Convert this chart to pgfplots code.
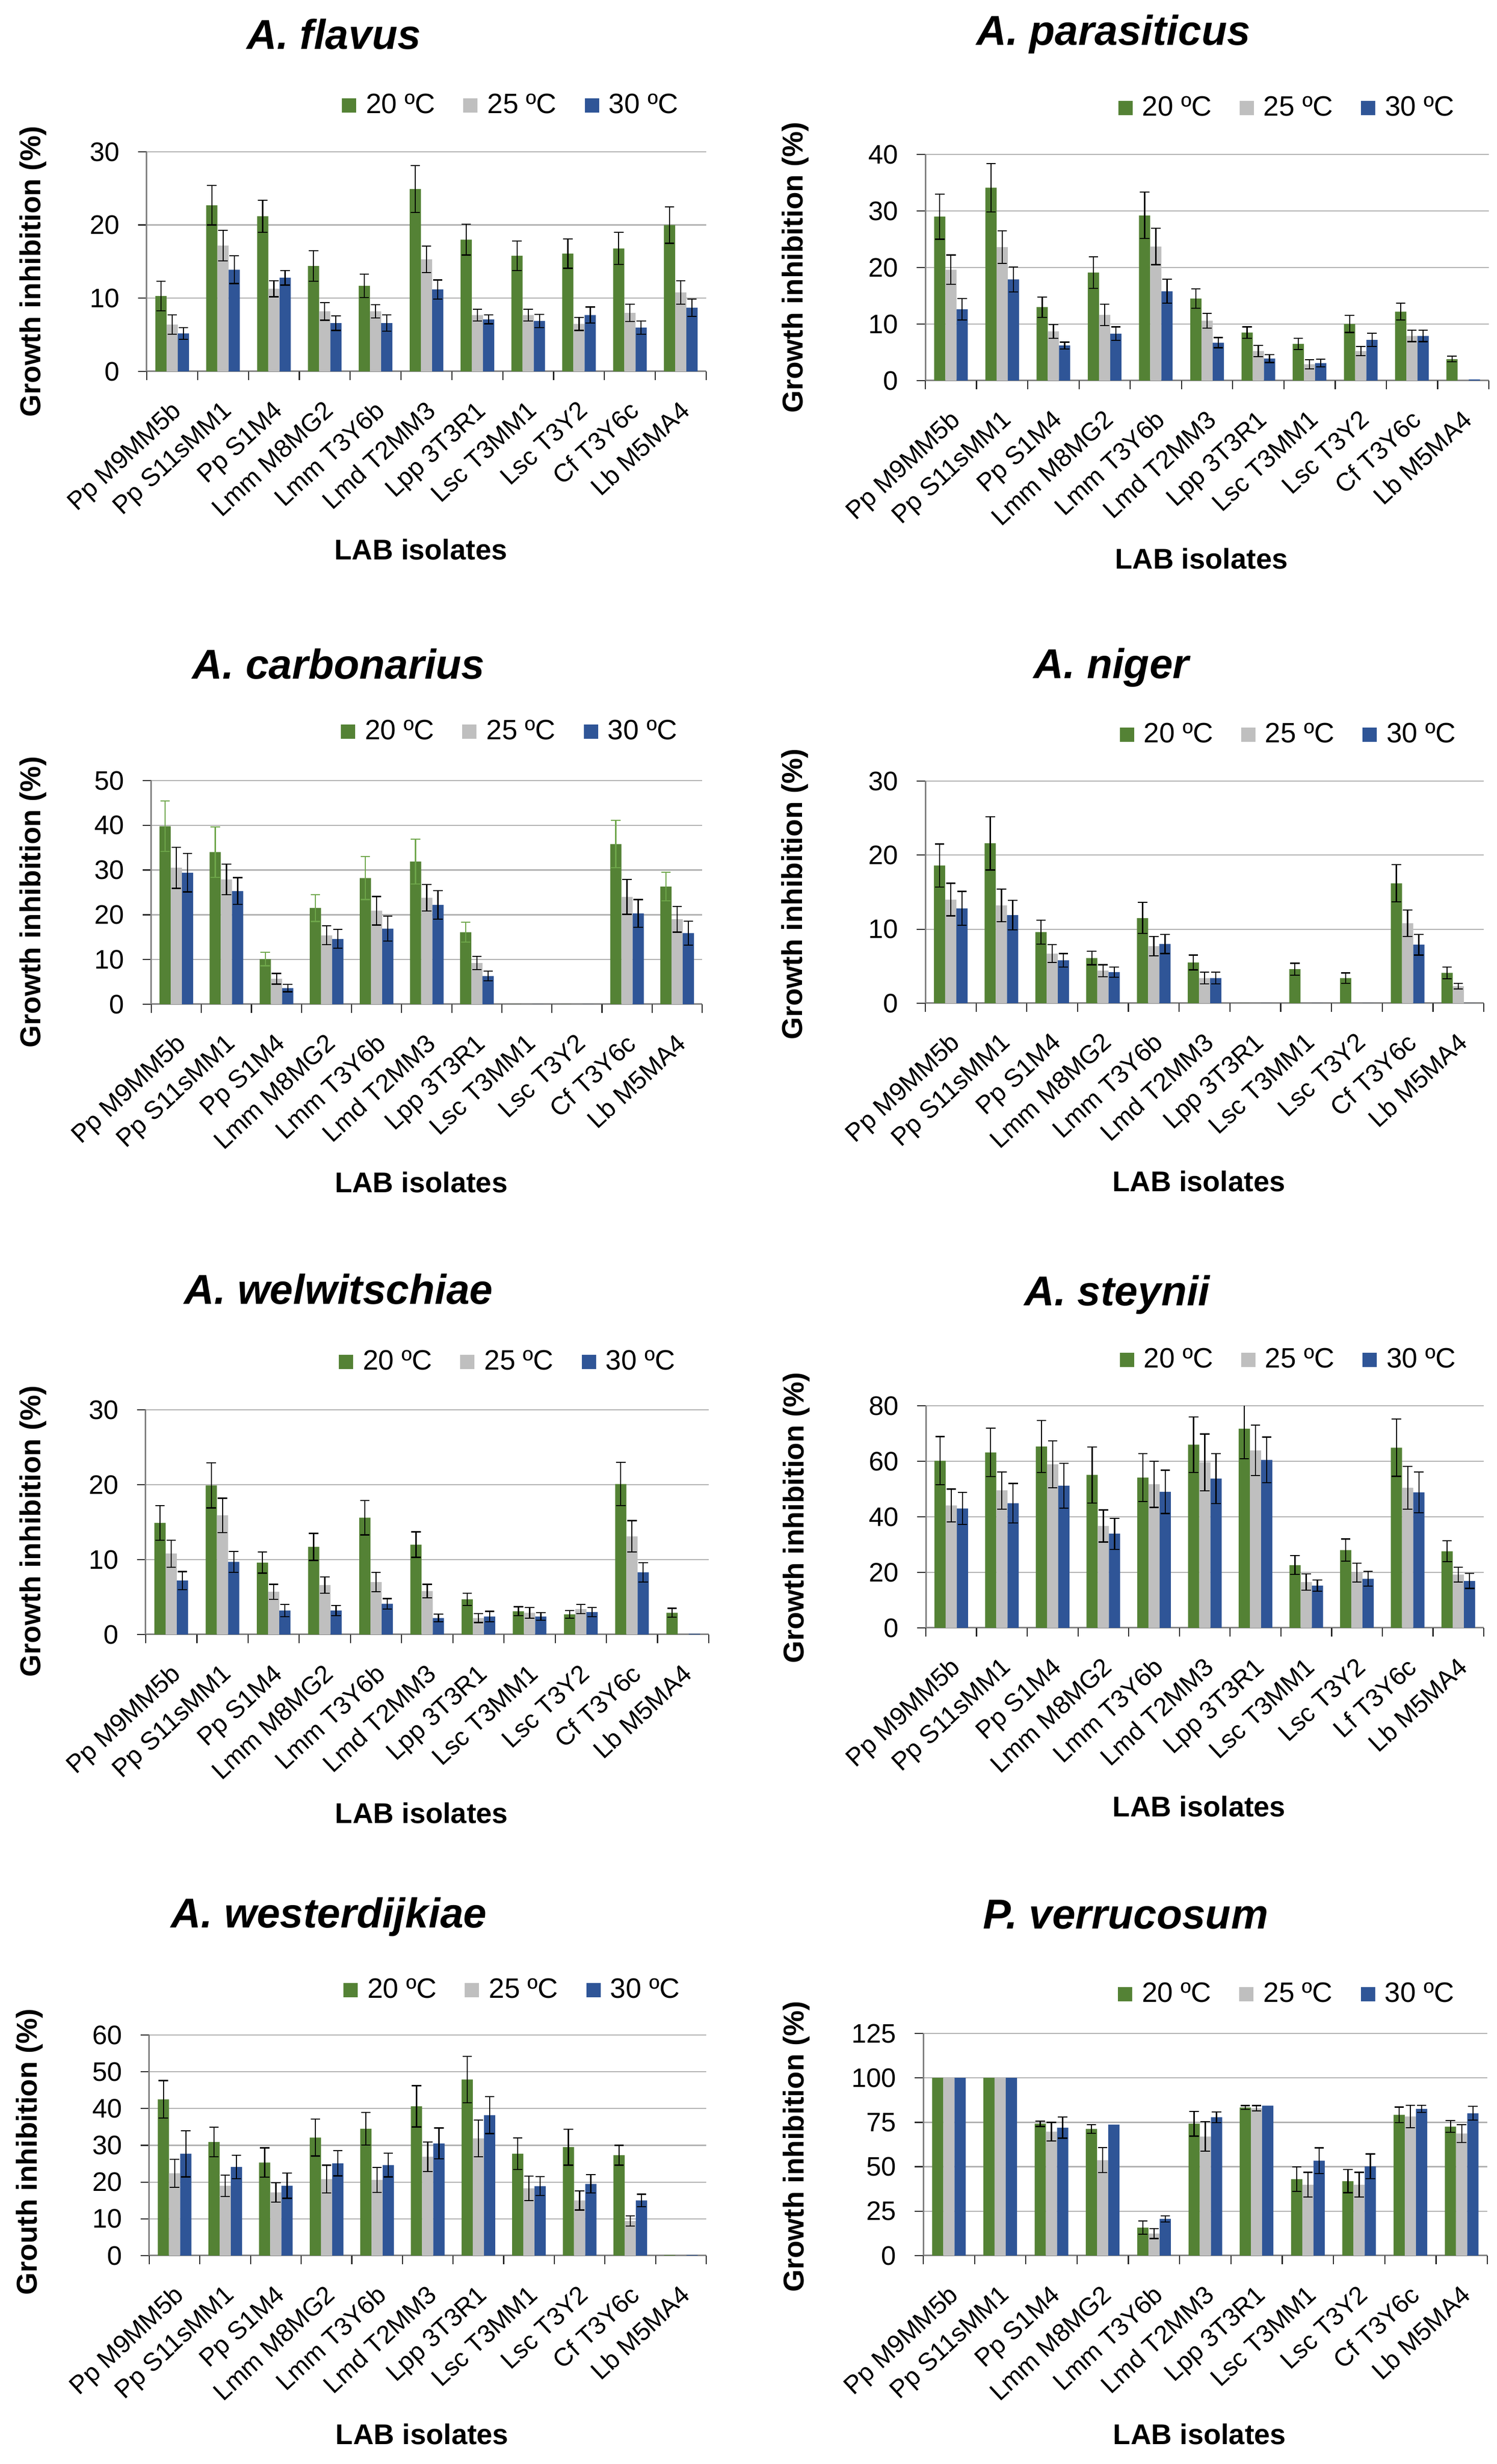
\documentclass[border=0pt]{standalone}
\usepackage{fontspec}
\setmainfont{Liberation Sans}
\usepackage{pgfplots}
\usepackage{pgfplotstable}
\pgfplotsset{compat=1.18}
\definecolor{cg}{HTML}{548235}
\definecolor{cs}{HTML}{BFBFBF}
\definecolor{cb}{HTML}{2F5597}
\definecolor{gridc}{HTML}{B0B0B0}
\definecolor{axc}{HTML}{808080}
\definecolor{cge}{HTML}{6EA64A}

\pgfplotstableread{
x g ge s se b be
0 10.3 2.0 6.4 1.3 5.2 0.8
1 22.7 2.7 17.2 2.1 13.9 1.9
2 21.2 2.2 11.3 1.1 12.8 1.0
3 14.4 2.1 8.2 1.2 6.6 1.0
4 11.7 1.6 8.2 0.9 6.6 1.1
5 24.9 3.2 15.3 1.8 11.2 1.3
6 18.0 2.1 7.7 0.8 7.1 0.6
7 15.8 2.0 7.7 0.8 6.9 0.9
8 16.1 2.0 6.5 0.9 7.7 1.1
9 16.8 2.2 8.0 1.2 6.0 0.9
10 20.0 2.5 10.8 1.6 8.7 1.2
}\flavus

\pgfplotstableread{
x g ge s se b be
0 29.0 4.0 19.6 2.6 12.6 1.9
1 34.1 4.3 23.6 2.9 17.9 2.2
2 13.0 1.8 8.7 1.2 6.2 0.6
3 19.1 2.8 11.6 1.9 8.3 1.2
4 29.2 4.1 23.7 3.2 15.8 2.1
5 14.5 1.7 10.6 1.3 6.7 0.9
6 8.5 1.0 5.2 1.0 3.9 0.7
7 6.5 1.0 2.9 0.8 3.1 0.7
8 10.0 1.5 5.2 0.8 7.2 1.2
9 12.2 1.5 7.9 1.0 7.9 1.0
10 3.8 0.5 0 0 0.2 0
}\parasiticus

\pgfplotstableread{
x g ge s se b be
0 39.8 5.6 30.5 4.6 29.4 4.3
1 34.0 5.6 27.9 3.4 25.3 3.0
2 10.1 1.5 5.7 1.2 3.6 0.8
3 21.5 3.0 15.4 2.1 14.6 2.1
4 28.2 4.8 20.9 3.2 16.9 2.8
5 31.9 5.0 23.8 3.0 22.2 3.2
6 16.1 2.2 9.2 1.5 6.3 1.1
7 0 0 0 0 0 0
8 0 0 0 0 0 0
9 35.8 5.3 24.0 3.9 20.3 3.1
10 26.3 3.2 19.0 2.9 15.9 2.7
}\carbonarius

\pgfplotstableread{
x g ge s se b be
0 18.6 2.9 14.0 2.2 12.8 2.3
1 21.6 3.6 13.2 2.2 11.9 2.0
2 9.6 1.6 6.7 1.2 5.8 0.9
3 6.1 0.9 4.4 0.8 4.2 0.7
4 11.5 2.1 7.7 1.3 8.0 1.3
5 5.5 1.0 3.4 0.8 3.4 0.8
6 0 0 0 0 0 0
7 4.6 0.8 0 0 0 0
8 3.4 0.7 0 0 0 0
9 16.2 2.5 10.8 1.8 7.9 1.4
10 4.1 0.8 2.3 0.4 0 0
}\niger

\pgfplotstableread{
x g ge s se b be
0 14.9 2.3 10.8 1.8 7.2 1.2
1 19.9 3.0 15.9 2.3 9.7 1.4
2 9.6 1.4 5.7 1.0 3.2 0.8
3 11.7 1.8 6.6 1.1 3.2 0.7
4 15.6 2.3 7.0 1.3 4.1 0.7
5 12.0 1.7 5.8 0.9 2.2 0.5
6 4.7 0.8 2.2 0.6 2.4 0.7
7 3.1 0.6 2.9 0.7 2.4 0.5
8 2.7 0.5 3.4 0.6 3.0 0.6
9 20.1 2.9 13.1 2.1 8.3 1.3
10 2.9 0.6 0 0 0.1 0
}\welwitschiae

\pgfplotstableread{
x g ge s se b be
0 60.2 8.7 44.1 5.9 43.0 5.8
1 63.2 8.7 49.5 6.7 44.9 7.1
2 65.3 9.4 58.9 8.5 51.2 8.1
3 55.1 10.1 36.7 5.8 33.9 5.6
4 54.1 8.6 51.7 8.3 49.0 7.8
5 66.0 10.0 59.6 10.2 53.8 9.0
6 71.7 10.8 63.9 9.1 60.5 8.2
7 22.6 3.4 16.5 2.9 15.2 2.0
8 28.0 4.0 19.9 3.4 17.7 2.6
9 64.9 10.3 50.5 7.7 48.8 7.4
10 27.6 3.8 19.2 2.7 16.9 2.7
}\steynii

\pgfplotstableread{
x g ge s se b be
0 42.5 5.1 22.4 3.8 27.7 6.3
1 30.9 4.0 19.0 2.9 24.1 3.2
2 25.3 4.0 17.2 2.6 19.0 3.4
3 32.1 5.0 20.8 3.8 25.1 3.4
4 34.5 4.4 20.6 3.4 24.6 3.2
5 40.6 5.6 26.9 4.0 30.5 4.2
6 47.9 6.3 31.9 5.0 38.2 5.0
7 27.7 4.3 18.3 3.3 18.9 2.6
8 29.5 4.9 15.0 2.6 19.5 2.5
9 27.3 2.7 9.4 1.4 15.0 1.7
10 0.15 0 0 0 0.15 0
}\westerdijkiae

\pgfplotstableread{
x g ge s se b be
0 100 0 100 0 100 0
1 100 0 100 0 100 0
2 74.2 1.5 69.8 5.2 72.0 5.9
3 71.3 2.4 53.7 7.0 73.7 0
4 15.7 3.7 12.4 2.8 20.7 1.7
5 74.2 7.0 67.0 8.3 77.9 3.0
6 83.3 1.1 82.9 1.5 84.4 0
7 43.0 6.8 39.9 7.0 53.4 7.2
8 41.9 6.5 39.9 7.0 50.2 7.0
9 79.2 4.4 78.3 6.3 82.5 2.0
10 72.6 3.3 68.7 5.0 80.1 3.9
}\verrucosum

\pgfplotsset{
  panel/.style={
    scale only axis, anchor=south west,
    ybar, bar width=4.4pt,
    xmin=-0.5, xmax=10.5, ymin=0,
    axis x line*=bottom, axis y line*=left,
    axis line style={draw=axc, line width=0.6pt},
    tick align=outside, major tick length=3.4pt,
    /pgf/number format/assume math mode=true,
    xticklabel style={font=\fontsize{10}{12}\selectfont},
    yticklabel style={font=\fontsize{10.5}{12}\selectfont},
    xtick={0,...,10},
    xticklabels={Pp M9MM5b, Pp S11sMM1, Pp S1M4, Lmm M8MG2, Lmm T3Y6b, Lmd T2MM3, Lpp 3T3R1, Lsc T3MM1, Lsc T3Y2, Cf T3Y6c, Lb M5MA4},
    xticklabel style={xshift=-0.8pt, yshift=-6pt, rotate=43, anchor=north east, inner sep=1pt},
    yticklabel style={xshift=-3.7pt},
    xtick style={draw=none},
    extra x ticks={-0.5,0.5,...,10.5},
    extra x tick labels={,,,,,,,,,,,},
    extra x tick style={grid=none, xtick style={draw=black!85, line width=0.45pt}},
    ytick style={draw=black!85, line width=0.45pt},
    ymajorgrids, major grid style={draw=gridc, line width=0.45pt},
    ylabel={Growth inhibition (\%)},
    ylabel style={font=\fontsize{11.3}{13}\selectfont\bfseries, anchor=center},
    xlabel={LAB isolates},
    xlabel style={font=\fontsize{11.2}{13}\selectfont\bfseries, at={(axis description cs:0.49,0)}, anchor=center, yshift=-70pt},
    title style={font=\fontsize{16.4}{19}\selectfont\bfseries\itshape, at={(axis description cs:0.5,1)}, anchor=center},
    legend columns=3,
    legend style={at={(axis description cs:1,1)}, anchor=east, draw=none, fill=none, inner sep=0pt,
      font=\fontsize{11}{13}\selectfont, /tikz/every even column/.append style={column sep=9pt}},
    legend image code/.code={\fill[#1,draw=none] (0pt,-2.8pt) rectangle (5.6pt,2.8pt);},
  },
  eb/.style={forget plot, draw=none, fill=none,
    error bars/y dir=both, error bars/y explicit,
    error bars/error bar style={draw=#1, line width=0.45pt},
    error bars/error mark options={rotate=90, draw=#1, mark size=1.85pt, line width=0.45pt}},
}

\newcommand{\panelplots}[2]{%
  \addplot[fill=cg, draw=none, bar shift=-4.4pt] table[x=x,y=g]{#1};
  \addplot[fill=cs, draw=none, bar shift=0pt] table[x=x,y=s]{#1};
  \addplot[fill=cb, draw=none, bar shift=4.4pt] table[x=x,y=b]{#1};
  \legend{\hspace*{1.8pt}20 ºC, \hspace*{1.8pt}25 ºC, \hspace*{1.8pt}30 ºC}
  \addplot[eb=#2, bar shift=-4.4pt, restrict expr to domain={\thisrow{ge}}{0.01:1000}] table[x=x,y=g,y error=ge]{#1};
  \addplot[eb=black, bar shift=0pt, restrict expr to domain={\thisrow{se}}{0.01:1000}] table[x=x,y=s,y error=se]{#1};
  \addplot[eb=black, bar shift=4.4pt, restrict expr to domain={\thisrow{be}}{0.01:1000}] table[x=x,y=b,y error=be]{#1};
}

\begin{document}
\begin{tikzpicture}
\path[use as bounding box] (0,0) rectangle (587.6pt,967.2pt);

% A. flavus
\begin{axis}[panel, at={(57.6pt,821.4pt)}, width=219.6pt, height=86.2pt,
  ymax=30, ytick={0,10,20,30}, title={A. flavus},
  title style={xshift=-36.4pt, yshift=40.1pt},
  legend style={xshift=-8.8pt, yshift=18.2pt},
  ylabel style={at={(axis description cs:-0.203,0.455)}}]
\panelplots{\flavus}{black}
\end{axis}

% A. parasiticus
\begin{axis}[panel, at={(363.2pt,817.8pt)}, width=221.2pt, height=88.8pt,
  ymax=40, ytick={0,10,...,40}, title={A. parasiticus},
  title style={xshift=-36.8pt, yshift=41.1pt},
  legend style={xshift=-11.3pt, yshift=18.2pt},
  ylabel style={at={(axis description cs:-0.231,0.5)}}]
\panelplots{\parasiticus}{black}
\end{axis}

% A. carbonarius
\begin{axis}[panel, at={(59.4pt,573pt)}, width=216.2pt, height=87.8pt,
  ymax=50, ytick={0,10,...,50}, title={A. carbonarius},
  title style={xshift=-34.6pt, yshift=39.7pt},
  legend style={xshift=-7.6pt, yshift=19.2pt},
  ylabel style={at={(axis description cs:-0.215,0.456)}}]
\panelplots{\carbonarius}{cge}
\end{axis}

% A. niger
\begin{axis}[panel, at={(363.2pt,573.4pt)}, width=219.2pt, height=87.2pt,
  ymax=30, ytick={0,10,20,30}, title={A. niger},
  title style={xshift=-36.6pt, yshift=38.6pt},
  legend style={xshift=-8.7pt, yshift=18.2pt},
  ylabel style={at={(axis description cs:-0.234,0.49)}}]
\panelplots{\niger}{black}
\end{axis}

% A. welwitschiae
\begin{axis}[panel, at={(57.2pt,325.6pt)}, width=221pt, height=88.2pt,
  ymax=30, ytick={0,10,20,30}, title={A. welwitschiae},
  title style={xshift=-34.8pt, yshift=41.3pt},
  legend style={xshift=-11pt, yshift=18.8pt},
  ylabel style={at={(axis description cs:-0.2,0.459)}}]
\panelplots{\welwitschiae}{black}
\end{axis}

% A. steynii
\begin{axis}[panel, at={(363.4pt,328.2pt)}, width=219pt, height=87.2pt,
  ymax=80, ytick={0,20,...,80}, title={A. steynii},
  xticklabels={Pp M9MM5b, Pp S11sMM1, Pp S1M4, Lmm M8MG2, Lmm T3Y6b, Lmd T2MM3, Lpp 3T3R1, Lsc T3MM1, Lsc T3Y2, Lf T3Y6c, Lb M5MA4},
  title style={xshift=-34.4pt, yshift=37.6pt},
  legend style={xshift=-8.7pt, yshift=18pt},
  ylabel style={at={(axis description cs:-0.232,0.495)}}]
\panelplots{\steynii}{black}
\end{axis}

% A. westerdijkiae
\begin{axis}[panel, at={(58.6pt,81.8pt)}, width=218.6pt, height=86.6pt,
  ymax=60, ytick={0,10,...,60}, title={A. westerdijkiae},
  ylabel={Grouth inhibition (\%)},
  title style={xshift=-38.8pt, yshift=40.4pt},
  legend style={xshift=-8.2pt, yshift=17.6pt},
  ylabel style={at={(axis description cs:-0.215,0.47)}}]
\panelplots{\westerdijkiae}{black}
\end{axis}

% P. verrucosum
\begin{axis}[panel, at={(362.4pt,81.8pt)}, width=221.4pt, height=87.2pt,
  ymax=125, ytick={0,25,...,125}, title={P. verrucosum},
  title style={xshift=-31.2pt, yshift=40.6pt},
  legend style={xshift=-10.8pt, yshift=15.4pt},
  ylabel style={at={(axis description cs:-0.225,0.49)}}]
\panelplots{\verrucosum}{black}
\end{axis}
\end{tikzpicture}
\end{document}
